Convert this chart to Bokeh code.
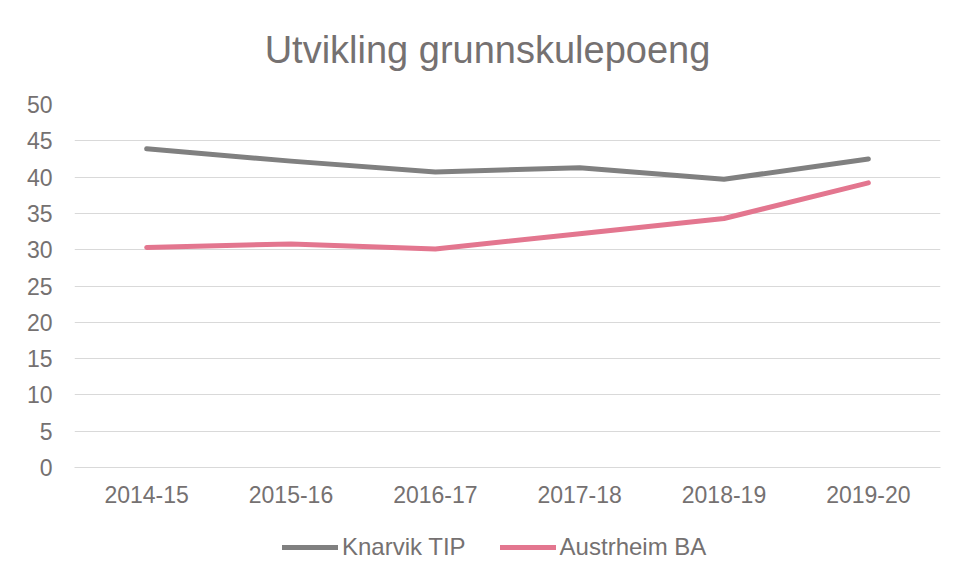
from bokeh.plotting import figure
from bokeh.layouts import column
from bokeh.models import Range1d, FactorRange, Legend, LegendItem, SingleIntervalTicker, Label
from bokeh.embed import file_html
from bokeh.resources import INLINE

seasons = ["2014-15", "2015-16", "2016-17", "2017-18", "2018-19", "2019-20"]
knarvik = [43.9, 42.2, 40.7, 41.3, 39.7, 42.5]
austrheim = [30.3, 30.8, 30.1, 32.2, 34.3, 39.2]
series_names = ["Knarvik TIP", "Austrheim BA"]
title_text = "Utvikling grunnskulepoeng"

TEXT = "#757171"
FONT = "Liberation Sans"
GRAY = "#808080"
PINK = "#E3768F"
W = 941
NAN = float("nan")


def blank(height):
    f = figure(width=W, height=height, x_range=Range1d(0, 1), y_range=Range1d(0, 1),
               output_backend="svg", toolbar_location=None,
               x_axis_location=None, y_axis_location=None,
               min_border_left=0, min_border_right=0, min_border_top=0, min_border_bottom=0)
    f.grid.visible = False
    f.outline_line_color = None
    f.background_fill_color = "white"
    f.border_fill_color = "white"
    return f


# title strip
top = blank(88)
top.add_layout(Label(x=413, y=39, x_units="screen", y_units="screen", text=title_text,
                     text_align="center", text_baseline="alphabetic",
                     text_font=FONT, text_font_size="38px", text_color=TEXT))

# main chart
p = figure(width=W, height=428, x_range=FactorRange(*seasons, range_padding=0),
           y_range=Range1d(0, 50), output_backend="svg", toolbar_location=None,
           min_border_left=74, min_border_right=1, min_border_top=16, min_border_bottom=49)
p.outline_line_color = None
p.background_fill_color = "white"
p.border_fill_color = "white"

p.line(seasons, knarvik, line_color=GRAY, line_width=5, line_cap="round", line_join="round")
p.line(seasons, austrheim, line_color=PINK, line_width=5, line_cap="round", line_join="round")

p.yaxis.ticker = SingleIntervalTicker(interval=5)
p.yaxis.axis_line_color = None
p.yaxis.major_tick_line_color = None
p.yaxis.minor_tick_line_color = None
p.yaxis.major_label_standoff = 16
p.yaxis.major_label_text_font = FONT
p.yaxis.major_label_text_font_size = "23px"
p.yaxis.major_label_text_color = TEXT

p.xaxis.axis_line_color = "#D9D9D9"
p.xaxis.major_tick_line_color = None
p.xaxis.minor_tick_line_color = None
p.xaxis.major_label_standoff = 12
p.xaxis.major_label_text_font = FONT
p.xaxis.major_label_text_font_size = "23px"
p.xaxis.major_label_text_color = TEXT

p.xgrid.grid_line_color = None
p.ygrid.grid_line_color = "#D9D9D9"
p.ygrid.grid_line_width = 1

# legend strip (legend glyph carriers hold no visible data)
leg = blank(45)
g1 = leg.line(x=[NAN], y=[NAN], line_color=GRAY, line_width=5, line_cap="round")
g2 = leg.line(x=[NAN], y=[NAN], line_color=PINK, line_width=5, line_cap="round")
legend = Legend(items=[LegendItem(label=series_names[0], renderers=[g1]),
                       LegendItem(label=series_names[1], renderers=[g2])],
                orientation="horizontal", location=(208, 0),
                glyph_width=56, glyph_height=24, label_height=24,
                label_standoff=4, spacing=34,
                padding=0, margin=0, border_line_color=None, background_fill_alpha=0,
                label_text_font=FONT, label_text_font_size="24px", label_text_color=TEXT)
leg.add_layout(legend, "center")

layout = column(top, p, leg, spacing=0)
open("out.html", "w").write(file_html(layout, INLINE))
